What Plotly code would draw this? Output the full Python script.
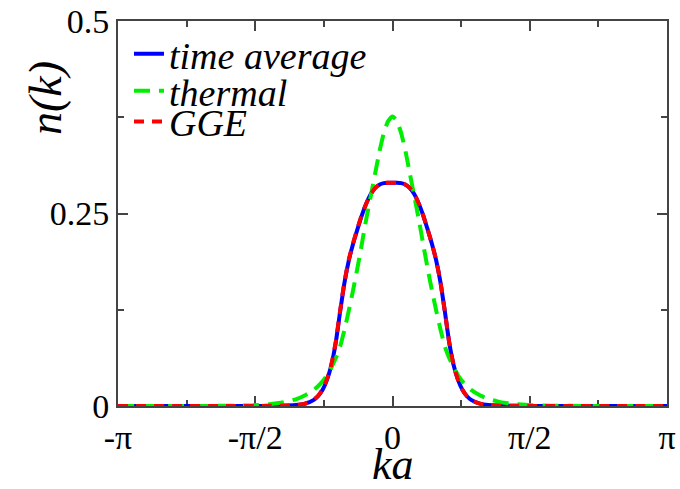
import plotly.graph_objects as go

# ---- data ----
k_vals = [-3.1416, -2.5, -2.0, -1.8, -1.6, -1.4, -1.3, -1.2, -1.1, -1.0, -0.9, -0.85, -0.8, -0.75,
          -0.7, -0.65, -0.6, -0.55, -0.5, -0.45, -0.4, -0.35, -0.3, -0.25, -0.2, -0.15, -0.1, -0.05,
          0.0,
          0.05, 0.1, 0.15, 0.2, 0.25, 0.3, 0.35, 0.4, 0.45, 0.5, 0.55, 0.6, 0.65, 0.7,
          0.75, 0.8, 0.85, 0.9, 1.0, 1.1, 1.2, 1.3, 1.4, 1.6, 1.8, 2.0, 2.5, 3.1416]

n_time_average = [0.0, 0.0, 0.0, 0.0, 0.0001, 0.0002, 0.0003, 0.0005, 0.0012, 0.003, 0.008, 0.013, 0.021, 0.034,
                  0.053, 0.082, 0.122, 0.160, 0.189, 0.211, 0.230, 0.248, 0.263, 0.275, 0.283, 0.2875, 0.2895, 0.290,
                  0.290,
                  0.290, 0.2895, 0.2875, 0.283, 0.275, 0.263, 0.248, 0.230, 0.211, 0.189, 0.160, 0.122, 0.082, 0.053,
                  0.034, 0.021, 0.013, 0.008, 0.003, 0.0012, 0.0005, 0.0003, 0.0002, 0.0001, 0.0, 0.0, 0.0, 0.0]

n_thermal = [0.0, 0.0, 0.0002, 0.0004, 0.001, 0.0024, 0.0038, 0.006, 0.009, 0.014, 0.021, 0.026, 0.032, 0.040,
             0.050, 0.062, 0.077, 0.099, 0.124, 0.151, 0.180, 0.211, 0.243, 0.272, 0.301, 0.330, 0.354, 0.370,
             0.376,
             0.370, 0.354, 0.330, 0.301, 0.272, 0.243, 0.211, 0.180, 0.151, 0.124, 0.099, 0.077, 0.062, 0.050,
             0.040, 0.032, 0.026, 0.021, 0.014, 0.009, 0.006, 0.0038, 0.0024, 0.001, 0.0004, 0.0002, 0.0, 0.0]

n_gge = [0.0, 0.0, 0.0, 0.0, 0.0001, 0.0002, 0.0003, 0.0006, 0.0013, 0.0032, 0.0085, 0.0135, 0.022, 0.035,
         0.054, 0.083, 0.123, 0.161, 0.190, 0.212, 0.231, 0.249, 0.263, 0.275, 0.283, 0.2875, 0.2895, 0.290,
         0.290,
         0.290, 0.2895, 0.2875, 0.283, 0.275, 0.263, 0.248, 0.230, 0.211, 0.189, 0.160, 0.122, 0.082, 0.053,
         0.034, 0.021, 0.013, 0.008, 0.003, 0.0012, 0.0005, 0.0003, 0.0002, 0.0001, 0.0, 0.0, 0.0, 0.0]

x_tickvals = [-3.14159265, -1.57079633, 0.0, 1.57079633, 3.14159265]
x_ticktext = ["-π", "-π/2", "0", "π/2", "π"]
x_minorvals = [-2.35619449, -0.78539816, 0.78539816, 2.35619449]
y_tickvals = [0.0, 0.25, 0.5]
y_ticktext = ["0", "0.25", "0.5"]
y_minorvals = [0.125, 0.375]

FONT = "Liberation Serif"

fig = go.Figure()
fig.add_trace(go.Scatter(x=k_vals, y=n_time_average, mode="lines", name="time average",
                         line=dict(color="#0000ff", width=4, shape="spline", smoothing=0.6),
                         legend="legend"))
fig.add_trace(go.Scatter(x=k_vals, y=n_thermal, mode="lines", name="thermal",
                         line=dict(color="#00ee00", width=4, dash="16px,9px", shape="spline", smoothing=0.6),
                         legend="legend2"))
fig.add_trace(go.Scatter(x=k_vals, y=n_gge, mode="lines", name="GGE",
                         line=dict(color="#ff0000", width=4, dash="10px,8px", shape="spline", smoothing=0.6),
                         legend="legend3"))

axis_common = dict(
    showline=True, linecolor="#444444", linewidth=2, mirror="allticks",
    ticks="inside", tickcolor="#444444", tickwidth=2, ticklen=10,
    showgrid=False, zeroline=False, layer="below traces", automargin=False,
    tickfont=dict(family=FONT, size=34, color="black"),
)

fig.update_xaxes(range=[-3.14159265, 3.14159265], tickmode="array", tickvals=x_tickvals, ticktext=x_ticktext,
                 minor=dict(tickmode="array", tickvals=x_minorvals, ticks="inside", ticklen=6,
                            tickcolor="#444444", tickwidth=2, showgrid=False),
                 **axis_common)
fig.update_yaxes(range=[0, 0.5], tickmode="array", tickvals=y_tickvals, ticktext=y_ticktext,
                 minor=dict(tickmode="array", tickvals=y_minorvals, ticks="inside", ticklen=6,
                            tickcolor="#444444", tickwidth=2, showgrid=False),
                 **axis_common)

leg_common = dict(x=0.02, xanchor="left", yanchor="middle", bgcolor="rgba(0,0,0,0)",
                  font=dict(family=FONT, size=38, color="black", style="italic"))
fig.update_layout(
    width=680, height=489,
    margin=dict(l=118, r=13, t=21, b=83, autoexpand=False),
    paper_bgcolor="white", plot_bgcolor="white",
    showlegend=True,
    legend=dict(y=0.914, **leg_common),
    legend2=dict(y=0.818, **leg_common),
    legend3=dict(y=0.738, **leg_common),
    annotations=[
        dict(text="n(k)", x=-0.131, y=0.80, xref="paper", yref="paper", showarrow=False,
             textangle=-90, xanchor="center", yanchor="middle",
             font=dict(family=FONT, size=46, color="black", style="italic")),
        dict(text="ka", x=0.5, y=-0.150, xref="paper", yref="paper", showarrow=False,
             xanchor="center", yanchor="middle", height=44,
             font=dict(family=FONT, size=44, color="black", style="italic")),
    ],
)

fig.write_html("out.html")
